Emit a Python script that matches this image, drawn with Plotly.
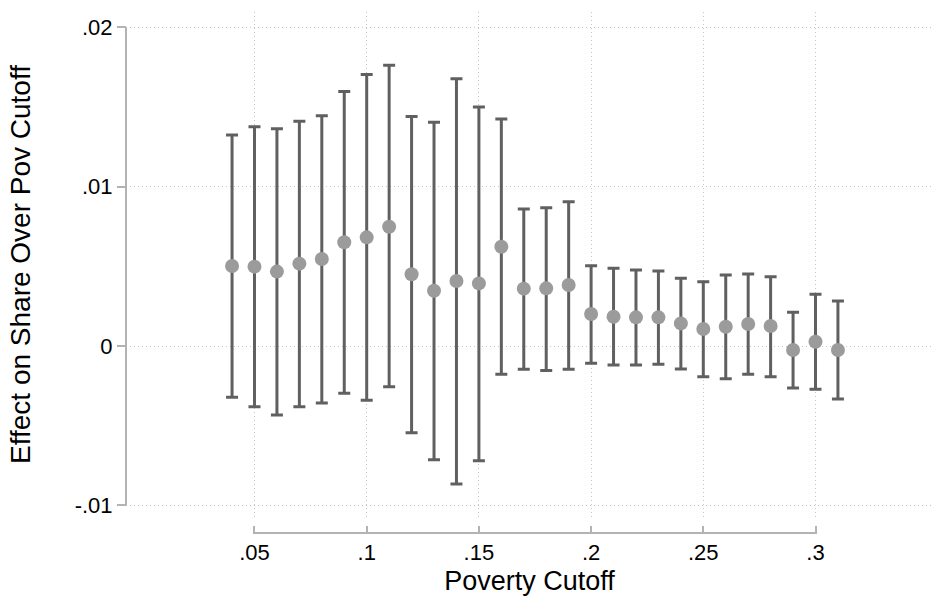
import plotly.graph_objects as go

# Poverty cutoffs (x)
cutoffs = [0.04, 0.05, 0.06, 0.07, 0.08, 0.09, 0.10, 0.11, 0.12, 0.13, 0.14, 0.15, 0.16, 0.17,
           0.18, 0.19, 0.20, 0.21, 0.22, 0.23, 0.24, 0.25, 0.26, 0.27, 0.28, 0.29, 0.30, 0.31]
# Point estimates
estimates = [0.00502, 0.00498, 0.00467, 0.00517, 0.00546, 0.00651, 0.00682, 0.00749, 0.00450,
             0.00347, 0.00408, 0.00393, 0.00623, 0.00360, 0.00362, 0.00383, 0.00201, 0.00184,
             0.00180, 0.00180, 0.00142, 0.00107, 0.00121, 0.00138, 0.00126, -0.00025, 0.00027, -0.00025]
# Confidence interval bounds
ci_upper = [0.01325, 0.01377, 0.01364, 0.01411, 0.01446, 0.01597, 0.01704, 0.01762, 0.01440,
            0.01404, 0.01678, 0.01500, 0.01425, 0.00860, 0.00868, 0.00906, 0.00504, 0.00488,
            0.00477, 0.00471, 0.00425, 0.00404, 0.00446, 0.00452, 0.00435, 0.00212, 0.00325, 0.00282]
ci_lower = [-0.00322, -0.00381, -0.00433, -0.00381, -0.00358, -0.00297, -0.00341, -0.00255, -0.00544,
            -0.00714, -0.00866, -0.00720, -0.00178, -0.00146, -0.00153, -0.00146, -0.00109, -0.00119,
            -0.00119, -0.00115, -0.00144, -0.00193, -0.00205, -0.00178, -0.00193, -0.00264, -0.00271, -0.00333]

x_ticks = [0.05, 0.10, 0.15, 0.20, 0.25, 0.30]
x_ticklabels = [".05", ".1", ".15", ".2", ".25", ".3"]
y_ticks = [-0.01, 0.0, 0.01, 0.02]
y_ticklabels = ["-.01", "0", ".01", ".02"]

err_plus = [u - e for u, e in zip(ci_upper, estimates)]
err_minus = [e - l for e, l in zip(estimates, ci_lower)]

FONT = "Liberation Sans, Arial, Helvetica, sans-serif"
AXIS_GREY = "#b3b3b3"
GRID_GREY = "#c4c4c4"

fig = go.Figure()
fig.add_trace(go.Scatter(
    x=cutoffs, y=estimates, mode="markers",
    marker=dict(color="#9b9b9b", size=14, line=dict(width=0)),
    error_y=dict(type="data", symmetric=False, array=err_plus, arrayminus=err_minus,
                 color="#606060", thickness=3, width=6),
    showlegend=False, hoverinfo="x+y",
))

fig.update_layout(
    width=933, height=612,
    margin=dict(l=126, r=0, t=12, b=87, autoexpand=False),
    paper_bgcolor="white", plot_bgcolor="white",
    font=dict(family=FONT, color="black"),
    xaxis=dict(
        range=[-0.00726, 0.35236], domain=[0, 1], anchor="free", position=0, automargin=False,
        tickvals=x_ticks, ticktext=x_ticklabels,
        ticks="outside", ticklen=8, tickwidth=2, tickcolor=AXIS_GREY,
        showline=False, zeroline=False,
        showgrid=True, gridcolor=GRID_GREY, griddash="1px,3px", gridwidth=1,
        tickfont=dict(size=22, family=FONT, color="black"),
        title=dict(text="Poverty Cutoff", font=dict(size=27, family=FONT, color="black"), standoff=6),
    ),
    yaxis=dict(
        range=[-0.010734, 0.020967], domain=[0.0156, 1], anchor="free", position=0, automargin=False,
        tickvals=y_ticks, ticktext=y_ticklabels,
        ticks="outside", ticklen=9, tickwidth=2, tickcolor=AXIS_GREY,
        showline=False, zeroline=False,
        showgrid=True, gridcolor=GRID_GREY, griddash="1px,3px", gridwidth=1,
        tickfont=dict(size=22, family=FONT, color="black"),
        title=dict(text="Effect on Share Over Pov Cutoff", font=dict(size=28, family=FONT, color="black"), standoff=34),
    ),
)

# Stata-style axis lines spanning only the labelled range
fig.add_shape(type="line", xref="paper", yref="y", x0=0, x1=0, y0=min(y_ticks), y1=max(y_ticks),
              line=dict(color=AXIS_GREY, width=2), layer="above")
fig.add_shape(type="line", xref="x", yref="paper", x0=min(x_ticks), x1=max(x_ticks), y0=-0.0156, y1=-0.0156,
              line=dict(color=AXIS_GREY, width=2), layer="above")

fig.write_html("out.html", config={"displayModeBar": False},
               post_script="document.body.style.margin='0px';document.body.style.overflow='hidden';")
